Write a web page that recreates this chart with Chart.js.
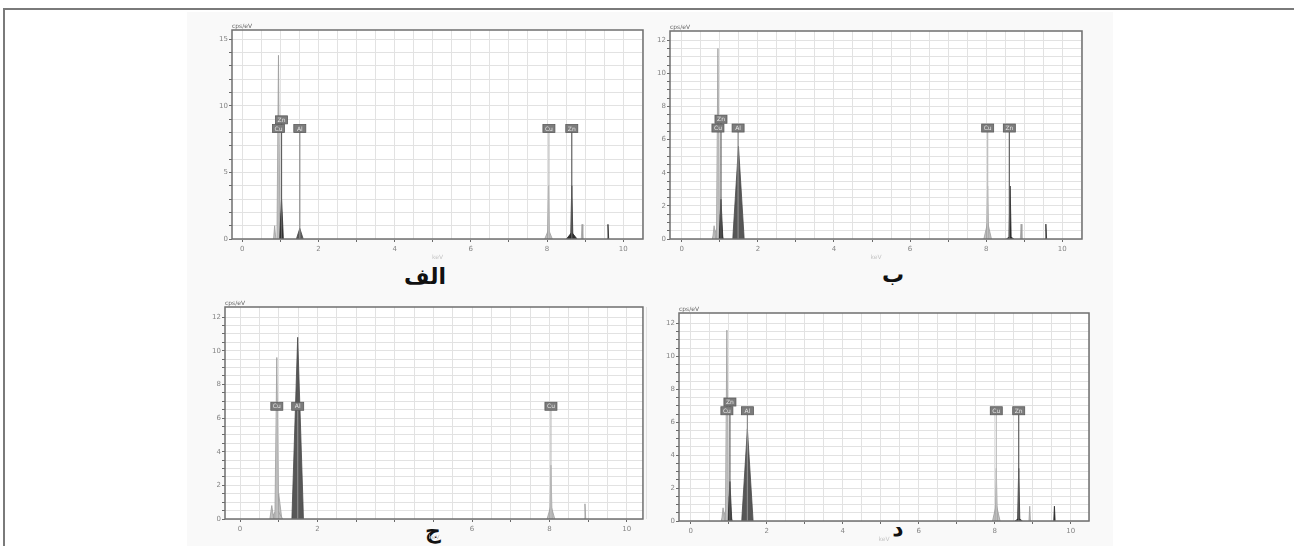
<!DOCTYPE html>
<html lang="fa">
<head>
<meta charset="UTF-8" />
<title>EDS spectra A-D</title>
<script src="https://cdn.jsdelivr.net/npm/chart.js@4.4.1/dist/chart.umd.min.js"></script>
<style>
  body { margin: 0; width: 1294px; height: 546px; background: #fff; position: relative; overflow: hidden; }
  .scan { position: absolute; left: 187px; top: 12px; width: 926px; height: 534px; background: #f9f9f9; }
  .frame { position: absolute; left: 3px; top: 8px; right: 0; height: 560px; border-top: 2px solid #7a7a7a; border-left: 2px solid #7a7a7a; }
  canvas { position: absolute; }
  .letter { position: absolute; font: bold 22px "Liberation Serif", serif; color: #111; transform: translate(-50%, -50%); }
  .ar { position: absolute; font: bold 22px "DejaVu Sans", sans-serif; color: #111; transform: translate(-50%, -50%); direction: rtl; }
</style>
</head>
<body>
<div class="scan"></div>
<div class="frame"></div>
<div class="letter" style="left:335px;top:103px">A</div>
<div class="letter" style="left:775px;top:103px">B</div>
<div class="letter" style="left:352px;top:352px">C</div>
<div class="letter" style="left:778px;top:354px">D</div>
<div class="ar" style="left:425px;top:276px">الف</div>
<div class="ar" style="left:893px;top:274px">ب</div>
<div class="ar" style="left:433px;top:530px">ج</div>
<div class="ar" style="left:898px;top:528px">د</div>
<script>
// peaks: element, energy (keV), height (cps/eV), half width (keV)
const peakElA = ['Zn', 'Al', 'Zn', 'Zn', 'Cu', 'Cu', 'Cu', 'Cu', 'Cu', 'Cu', 'Zn'];
const peakKevA = [1.03, 1.51, 8.65, 8.65, 0.85, 0.95, 0.98, 8.04, 8.04, 8.92, 9.6];
const peakCpsA = [3.0, 0.8, 4.0, 0.5, 1.0, 13.8, 2.0, 4.0, 0.7, 1.1, 1.1];
const peakWidA = [0.05, 0.09, 0.03, 0.14, 0.03, 0.04, 0.05, 0.03, 0.1, 0.02, 0.02];

const peakElB = ['Zn', 'Al', 'Zn', 'Zn', 'Zn', 'Cu', 'Cu', 'Cu', 'Cu', 'Cu', 'Cu', 'Cu'];
const peakKevB = [1.03, 1.49, 8.63, 8.63, 9.57, 0.85, 0.95, 0.95, 0.99, 8.04, 8.04, 8.92];
const peakCpsB = [2.4, 5.6, 3.2, 0.15, 0.9, 0.8, 11.5, 0.8, 1.5, 3.2, 1.0, 0.9];
const peakWidB = [0.05, 0.15, 0.03, 0.1, 0.02, 0.04, 0.04, 0.15, 0.06, 0.03, 0.1, 0.02];

const peakElC = ['Al', 'Cu', 'Cu', 'Cu', 'Cu', 'Cu', 'Cu', 'Cu'];
const peakKevC = [1.49, 0.82, 0.95, 0.95, 1.0, 8.04, 8.04, 8.92];
const peakCpsC = [10.8, 0.8, 9.6, 0.6, 1.5, 3.2, 0.8, 0.9];
const peakWidC = [0.15, 0.05, 0.05, 0.15, 0.08, 0.03, 0.1, 0.02];

const peakElD = ['Zn', 'Al', 'Zn', 'Zn', 'Zn', 'Cu', 'Cu', 'Cu', 'Cu', 'Cu', 'Cu', 'Cu'];
const peakKevD = [1.03, 1.49, 8.63, 8.63, 9.57, 0.85, 0.95, 0.95, 0.99, 8.04, 8.04, 8.92];
const peakCpsD = [2.4, 5.6, 3.2, 0.15, 0.9, 0.8, 11.6, 0.8, 1.5, 3.2, 1.0, 0.9];
const peakWidD = [0.05, 0.15, 0.03, 0.1, 0.02, 0.04, 0.04, 0.15, 0.06, 0.03, 0.1, 0.02];

// element marker lines
const lineElA = ['Cu', 'Zn', 'Al', 'Cu', 'Zn'];
const lineKevA = [0.95, 1.03, 1.51, 8.05, 8.65];
const lineElB = ['Cu', 'Zn', 'Al', 'Cu', 'Zn'];
const lineKevB = [0.95, 1.03, 1.48, 8.04, 8.61];
const lineElC = ['Cu', 'Al', 'Cu'];
const lineKevC = [0.95, 1.49, 8.04];
const lineElD = ['Cu', 'Zn', 'Al', 'Cu', 'Zn'];
const lineKevD = [0.95, 1.03, 1.49, 8.04, 8.63];

const shade = {
  Cu: { fill: '#c2c2c2', line: '#9c9c9c', mark: '#bdbdbd' },
  Zn: { fill: '#2f2f2f', line: '#2a2a2a', mark: '#606060' },
  Al: { fill: '#575757', line: '#474747', mark: '#8c8c8c' }
};

const panels = [
  { box: [232, 30, 643, 239], xMin: -0.27, xMax: 10.52, yMax: 15.7, yMajor: 5, yMinor: 1, tagY: 8.3, tagUp: 0.65, hideX: [],
    el: peakElA, kev: peakKevA, cps: peakCpsA, wid: peakWidA, lineEl: lineElA, lineKev: lineKevA },
  { box: [670, 31, 1082, 239], xMin: -0.31, xMax: 10.52, yMax: 12.56, yMajor: 2, yMinor: 0.5, tagY: 6.7, tagUp: 0.53, hideX: [],
    el: peakElB, kev: peakKevB, cps: peakCpsB, wid: peakWidB, lineEl: lineElB, lineKev: lineKevB },
  { box: [225, 307, 643, 519], xMin: -0.39, xMax: 10.42, yMax: 12.6, yMajor: 2, yMinor: 0.5, tagY: 6.7, tagUp: 0.53, hideX: [4],
    el: peakElC, kev: peakKevC, cps: peakCpsC, wid: peakWidC, lineEl: lineElC, lineKev: lineKevC },
  { box: [679, 313, 1089, 521], xMin: -0.31, xMax: 10.48, yMax: 12.64, yMajor: 2, yMinor: 0.5, tagY: 6.7, tagUp: 0.53, hideX: [],
    el: peakElD, kev: peakKevD, cps: peakCpsD, wid: peakWidD, lineEl: lineElD, lineKev: lineKevD }
];

const YW = 22, XH = 22, PT = 14, PR = 6;

function range(a, b, s) {
  const out = [];
  for (let v = a; v <= b + 1e-9; v += s) out.push(Math.round(v * 100) / 100);
  return out;
}

const frame = {
  id: 'frame',
  beforeDraw(chart) {
    const { ctx, chartArea: a } = chart;
    ctx.save();
    ctx.fillStyle = '#ffffff';
    ctx.fillRect(a.left, a.top, a.width, a.height);
    ctx.restore();
  },
  afterDraw(chart, args, opts) {
    const { ctx, chartArea: a, scales: { x, y } } = chart;
    ctx.save();
    ctx.strokeStyle = '#6f6f6f';
    ctx.lineWidth = 1.5;
    ctx.strokeRect(a.left, a.top, a.width, a.height);
    ctx.font = '6px "DejaVu Sans"';
    ctx.textAlign = 'center';
    ctx.textBaseline = 'middle';
    opts.tags.forEach(t => {
      const px = x.getPixelForValue(t.x), py = y.getPixelForValue(t.y);
      ctx.fillStyle = '#7c7c7c';
      ctx.fillRect(px - 6, py - 4, 12, 8);
      ctx.strokeStyle = '#5a5a5a';
      ctx.lineWidth = 0.8;
      ctx.strokeRect(px - 6, py - 4, 12, 8);
      ctx.fillStyle = '#e4e4e4';
      ctx.fillText(t.el, px, py + 0.5);
    });
    ctx.fillStyle = '#666';
    ctx.textAlign = 'left';
    ctx.textBaseline = 'bottom';
    ctx.fillText('cps/eV', a.left, a.top - 1);
    ctx.fillStyle = '#c6c6c6';
    ctx.textAlign = 'center';
    ctx.textBaseline = 'top';
    ctx.fillText('keV', (a.left + a.right) / 2, a.bottom + 15);
    ctx.restore();
  }
};

panels.forEach(p => {
  const [L, T, R, B] = p.box;
  const cv = document.createElement('canvas');
  cv.width = (R - L) + YW + PR;
  cv.height = (B - T) + PT + XH;
  cv.style.left = (L - YW) + 'px';
  cv.style.top = (T - PT) + 'px';
  document.body.appendChild(cv);

  const peaks = p.kev.map((e, i) => ({
    data: [{ x: e - p.wid[i], y: 0 }, { x: e, y: p.cps[i] }, { x: e + p.wid[i], y: 0 }],
    backgroundColor: shade[p.el[i]].fill,
    borderColor: shade[p.el[i]].line,
    borderWidth: 0.8,
    fill: 'origin',
    order: p.el[i] === 'Cu' ? 3 : 2
  }));

  const tags = p.lineKev.map((e, i) => ({
    el: p.lineEl[i],
    x: e,
    y: (i > 0 && e - p.lineKev[i - 1] < 0.2) ? p.tagY + p.tagUp : p.tagY
  }));

  const marks = tags.map(t => ({
    data: [{ x: t.x, y: 0 }, { x: t.x, y: t.y }],
    borderColor: shade[t.el].mark,
    borderWidth: 1.2,
    fill: false,
    order: 1
  }));

  new Chart(cv, {
    type: 'line',
    data: { datasets: peaks.concat(marks) },
    options: {
      responsive: false,
      animation: false,
      events: [],
      layout: { padding: { left: 0, top: PT, right: PR, bottom: 0 } },
      elements: { point: { radius: 0 }, line: { tension: 0 } },
      plugins: { legend: { display: false }, tooltip: { enabled: false }, frame: { tags } },
      scales: {
        x: {
          type: 'linear', min: p.xMin, max: p.xMax,
          afterBuildTicks: s => { s.ticks = range(0, 10.5, 0.5).map(v => ({ value: v })); },
          afterFit: s => { s.height = XH; },
          border: { display: false },
          grid: {
            color: '#e2e2e2', lineWidth: 1, tickLength: 3,
            tickColor: c => Number.isInteger(c.tick.value) ? '#6a6a6a' : 'rgba(0,0,0,0)'
          },
          ticks: {
            autoSkip: false, maxRotation: 0, padding: 3, color: '#858585',
            font: { size: 7, family: 'DejaVu Sans' },
            callback: v => (v % 2 === 0 && !p.hideX.includes(v)) ? v : ''
          }
        },
        y: {
          type: 'linear', min: 0, max: p.yMax,
          afterBuildTicks: s => { s.ticks = range(0, Math.floor(p.yMax), p.yMinor).map(v => ({ value: v })); },
          afterFit: s => { s.width = YW; },
          border: { display: false },
          grid: { color: '#e2e2e2', lineWidth: 1, tickLength: 3, tickColor: '#6a6a6a' },
          ticks: {
            autoSkip: false, padding: 1, color: '#858585',
            font: { size: 7, family: 'DejaVu Sans' },
            callback: v => v % p.yMajor === 0 ? v : ''
          }
        }
      }
    },
    plugins: [frame]
  });
});
</script>
</body>
</html>
